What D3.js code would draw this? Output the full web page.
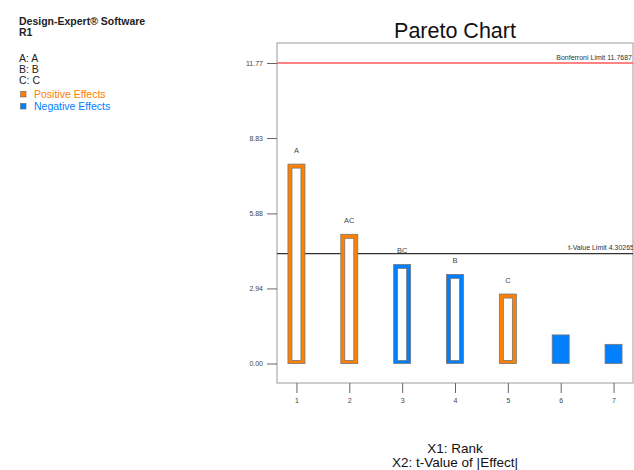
<!DOCTYPE html>
<html>
<head>
<meta charset="utf-8">
<script src="https://cdn.jsdelivr.net/npm/d3@7"></script>
<style>
  html, body { margin: 0; padding: 0; background: #fff; }
  svg { display: block; font-family: "Liberation Sans", Arial, sans-serif; }
</style>
</head>
<body>
<svg id="chart" width="634" height="470"></svg>
<script>
// Effect terms ranked by |t|
const ranks = [1, 2, 3, 4, 5, 6, 7];
const terms = ["A", "AC", "BC", "B", "C", "", ""];
const tValues = [7.81, 5.06, 3.88, 3.49, 2.72, 1.12, 0.75];
const effectSign = ["pos", "pos", "neg", "neg", "pos", "neg", "neg"];
const inModel = [true, true, true, true, true, false, false];

const yTickValues = [0, 2.94, 5.88, 8.83, 11.77];
const yTickLabels = ["0.00", "2.94", "5.88", "8.83", "11.77"];

const bonferroniLimit = 11.7687;
const tValueLimit = 4.30265;

const legendTerms = ["A: A", "B: B", "C: C"];

const ORANGE = "#FF8000";
const BLUE = "#0080FF";

const svg = d3.select("#chart");

const frame = { left: 277, right: 633, top: 43, bottom: 383 };

const x = d3.scaleLinear().domain([0.632, 7.368]).range([frame.left, frame.right]);
const y = d3.scaleLinear().domain([0, 11.77]).range([363.5, 63]);

// side caption
const side = svg.append("g").attr("fill", "#222");
side.append("text").attr("x", 19).attr("y", 25).attr("font-size", 10.5).attr("font-weight", "bold")
  .text("Design-Expert\u00AE Software");
side.append("text").attr("x", 19).attr("y", 36).attr("font-size", 10.5).attr("font-weight", "bold").text("R1");
legendTerms.forEach((t, i) => {
  side.append("text").attr("x", 19).attr("y", 62 + i * 11).attr("font-size", 10.5).text(t);
});
[["Positive Effects", ORANGE, 98], ["Negative Effects", BLUE, 110]].forEach(([lab, col, yy]) => {
  side.append("rect").attr("x", 20.5).attr("y", yy - 6.5).attr("width", 5.5).attr("height", 5.5)
    .attr("fill", col).attr("stroke", "#666").attr("stroke-width", 0.6);
  side.append("text").attr("x", 34).attr("y", yy).attr("font-size", 10.5).attr("fill", col).text(lab);
});

// title
svg.append("text").attr("x", 455).attr("y", 38).attr("text-anchor", "middle")
  .attr("font-size", 21.5).attr("fill", "#111").text("Pareto Chart");

// frame
svg.append("rect").attr("x", frame.left).attr("y", frame.top)
  .attr("width", frame.right - frame.left).attr("height", frame.bottom - frame.top)
  .attr("fill", "none").attr("stroke", "#9a9a9a").attr("stroke-width", 1);

// y axis
const yAxis = d3.axisLeft(y).tickValues(yTickValues)
  .tickFormat((d, i) => yTickLabels[i]).tickSize(10).tickPadding(4);
const gy = svg.append("g").attr("transform", `translate(${frame.left},0)`).call(yAxis);
gy.select(".domain").remove();
gy.selectAll(".tick line").attr("stroke", "#666");
gy.selectAll(".tick text").attr("font-size", 7).attr("fill", "#444")
  .attr("font-family", "Liberation Sans, Arial, sans-serif");

// x axis
const xAxis = d3.axisBottom(x).tickValues(ranks).tickFormat(d3.format("d")).tickSize(10).tickPadding(5);
const gx = svg.append("g").attr("transform", `translate(0,${frame.bottom})`).call(xAxis);
gx.select(".domain").remove();
gx.selectAll(".tick line").attr("stroke", "#666");
gx.selectAll(".tick text").attr("font-size", 7).attr("fill", "#444")
  .attr("font-family", "Liberation Sans, Arial, sans-serif");

// clip to frame for limit labels
svg.append("clipPath").attr("id", "plotClip").append("rect")
  .attr("x", frame.left).attr("y", frame.top)
  .attr("width", frame.right - frame.left).attr("height", frame.bottom - frame.top);
const plot = svg.append("g").attr("clip-path", "url(#plotClip)");

// limit lines
plot.append("line").attr("x1", frame.left).attr("x2", frame.right)
  .attr("y1", y(bonferroniLimit)).attr("y2", y(bonferroniLimit))
  .attr("stroke", "#FF5A5A").attr("stroke-width", 1.4);
plot.append("text").attr("x", frame.right - 1).attr("y", y(bonferroniLimit) - 3.5)
  .attr("text-anchor", "end").attr("font-size", 7).attr("fill", "#333")
  .text("Bonferroni Limit " + bonferroniLimit);
plot.append("line").attr("x1", frame.left).attr("x2", frame.right)
  .attr("y1", y(tValueLimit)).attr("y2", y(tValueLimit))
  .attr("stroke", "#333").attr("stroke-width", 1.3);
plot.append("text").attr("x", frame.right + 1).attr("y", y(tValueLimit) - 4)
  .attr("text-anchor", "end").attr("font-size", 7).attr("fill", "#333")
  .text("t-Value Limit " + tValueLimit);

// bars
const barW = 17;
const border = 4;
const bars = plot.selectAll("g.bar").data(ranks).enter().append("g").attr("class", "bar");
bars.each(function (r, i) {
  const g = d3.select(this);
  const col = effectSign[i] === "pos" ? ORANGE : BLUE;
  const x0 = x(r) - barW / 2;
  const yTop = y(tValues[i]);
  const h = y(0) - yTop;
  g.append("rect").attr("x", x0).attr("y", yTop).attr("width", barW).attr("height", h)
    .attr("fill", col).attr("stroke", "#777").attr("stroke-width", 0.8);
  if (inModel[i]) {
    g.append("rect").attr("x", x0 + border).attr("y", yTop + border)
      .attr("width", barW - 2 * border).attr("height", Math.max(0, h - border - 3))
      .attr("fill", "#fff").attr("stroke", "#777").attr("stroke-width", 0.8);
  }
  if (terms[i]) {
    g.append("text").attr("x", x(r)).attr("y", yTop - 11)
      .attr("text-anchor", "middle").attr("font-size", 7.5).attr("fill", "#444").text(terms[i]);
  }
});

// axis titles
svg.append("text").attr("x", 455).attr("y", 453).attr("text-anchor", "middle")
  .attr("font-size", 13.5).attr("fill", "#111").text("X1: Rank");
svg.append("text").attr("x", 455).attr("y", 467).attr("text-anchor", "middle")
  .attr("font-size", 13.5).attr("fill", "#111").text("X2: t-Value of |Effect|");
</script>
</body>
</html>
